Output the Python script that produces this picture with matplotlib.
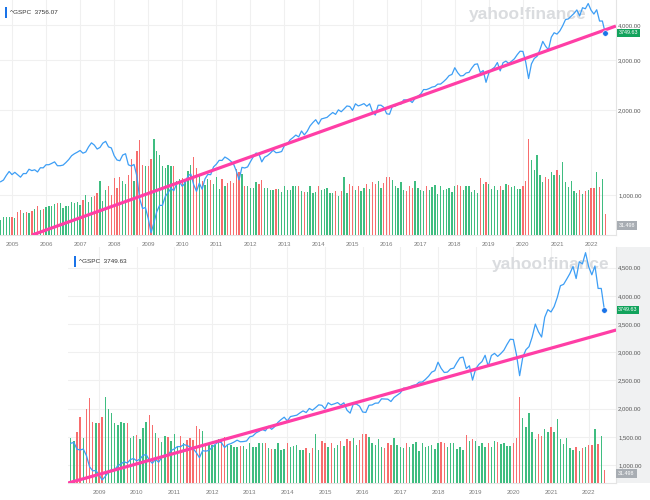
import matplotlib
matplotlib.use("Agg")
import matplotlib.pyplot as plt
import numpy as np
import pandas as pd
from matplotlib.patches import Rectangle
from matplotlib.ticker import FixedLocator, NullLocator, FuncFormatter

plt.rcParams['font.family'] = ['Liberation Sans', 'DejaVu Sans']

# ^GSPC monthly closes, Sep 2004 .. Jun 2022
close = [
    1114.58, 1130.20, 1173.82, 1211.92,
    1181.27, 1203.60, 1180.59, 1156.85, 1191.50, 1191.33, 1234.18, 1220.33, 1228.81, 1207.01, 1249.48, 1248.29,
    1280.08, 1280.66, 1294.83, 1310.61, 1270.09, 1270.20, 1276.66, 1303.82, 1335.85, 1377.94, 1400.63, 1418.30,
    1438.24, 1406.82, 1420.86, 1482.37, 1530.62, 1503.35, 1455.27, 1473.99, 1526.75, 1549.38, 1481.14, 1468.36,
    1378.55, 1330.63, 1322.70, 1385.59, 1400.38, 1280.00, 1267.38, 1282.83, 1166.36, 968.75, 896.24, 903.25,
    825.88, 735.09, 797.87, 872.81, 919.14, 919.32, 987.48, 1020.62, 1057.08, 1036.19, 1095.63, 1115.10,
    1073.87, 1104.49, 1169.43, 1186.69, 1089.41, 1030.71, 1101.60, 1049.33, 1141.20, 1183.26, 1180.55, 1257.64,
    1286.12, 1327.22, 1325.83, 1363.61, 1345.20, 1320.64, 1292.28, 1218.89, 1131.42, 1253.30, 1246.96, 1257.60,
    1312.41, 1365.68, 1408.47, 1397.91, 1310.33, 1362.16, 1379.32, 1406.58, 1440.67, 1412.16, 1416.18, 1426.19,
    1498.11, 1514.68, 1569.19, 1597.57, 1630.74, 1606.28, 1685.73, 1632.97, 1681.55, 1756.54, 1805.81, 1848.36,
    1782.59, 1859.45, 1872.34, 1883.95, 1923.57, 1960.23, 1930.67, 2003.37, 1972.29, 2018.05, 2067.56, 2058.90,
    1994.99, 2104.50, 2067.89, 2085.51, 2107.39, 2063.11, 2103.84, 1972.18, 1920.03, 2079.36, 2080.41, 2043.94,
    1940.24, 1932.23, 2059.74, 2065.30, 2096.95, 2098.86, 2173.60, 2170.95, 2168.27, 2126.15, 2198.81, 2238.83,
    2278.87, 2363.64, 2362.72, 2384.20, 2411.80, 2423.41, 2470.30, 2471.65, 2519.36, 2575.26, 2647.58, 2673.61,
    2823.81, 2713.83, 2640.87, 2648.05, 2705.27, 2718.37, 2816.29, 2901.52, 2913.98, 2711.74, 2760.17, 2506.85,
    2704.10, 2784.49, 2834.40, 2945.83, 2752.06, 2941.76, 2980.38, 2926.46, 2976.74, 3037.56, 3140.98, 3230.78,
    3225.52, 2954.22, 2584.59, 2912.43, 3044.31, 3100.29, 3271.12, 3500.31, 3363.00, 3269.96, 3621.63, 3756.07,
    3714.24, 3811.15, 3972.89, 4181.17, 4204.11, 4297.50, 4395.26, 4522.68, 4307.54, 4605.38, 4567.00, 4766.18,
    4515.55, 4373.94, 4530.41, 4131.93, 4132.15, 3749.63,
]

# monthly volume (billions), same months
volume = [
    22.5, 27, 27, 27,
    27, 25.5, 34.5, 37.5, 33, 34.5, 33, 36, 39, 43.5, 37.5, 39,
    42, 43.5, 43.5, 46.5, 48, 48, 40.5, 43.5, 43.5, 49.5, 48, 49.5,
    45, 52.5, 60, 49.5, 57, 58.5, 63, 81, 51, 67.5, 73.5, 60,
    85.5, 70.5, 87, 81.2, 76.6, 90.3, 113.3, 81.2, 125.5, 142.4, 105.6, 104.1,
    104.1, 113.3, 143.9, 125.5, 119.4, 104.1, 101.0, 105.6, 104.1, 104.1, 81.2, 84.2,
    85.7, 79.6, 96.5, 105.6, 116.3, 101.0, 88.8, 81.2, 75.0, 84.2, 82.7, 76.6,
    87.3, 68.9, 84.2, 73.5, 78.1, 81.2, 78.1, 99.5, 94.9, 91.9, 73.5, 73.5,
    70.4, 70.4, 79.6, 76.6, 82.7, 70.4, 70.4, 67.4, 67.4, 68.9, 68.9, 64.3,
    73.5, 67.4, 67.4, 73.5, 73.5, 73.5, 65.9, 64.3, 64.3, 73.5, 62.8, 64.3,
    73.5, 67.4, 68.9, 70.4, 62.8, 62.8, 65.9, 58.2, 65.9, 87.3, 62.8, 76.6,
    73.5, 67.4, 73.5, 65.9, 70.4, 76.6, 68.9, 79.6, 76.6, 81.2, 70.4, 78.1,
    87.3, 87.3, 82.7, 73.5, 70.4, 79.6, 67.4, 65.9, 73.5, 70.4, 81.2, 70.4,
    67.4, 65.9, 73.5, 67.4, 72.0, 75.0, 61.3, 73.5, 67.4, 68.9, 70.4, 64.3,
    73.5, 75.0, 73.5, 67.4, 73.5, 73.5, 64.3, 67.4, 62.8, 85.7, 76.6, 79.6,
    76.6, 68.9, 73.5, 67.4, 73.5, 67.4, 76.6, 75.0, 72.0, 73.5, 68.9, 68.9,
    73.5, 81.2, 143.9, 111.8, 98.0, 119.4, 90.3, 79.6, 87.3, 84.2, 94.9, 90.3,
    98.0, 90.3, 110.2, 79.6, 72.0, 81.2, 65.9, 62.8, 67.4, 61.3, 65.9, 67.4,
    70.4, 70.4, 94.9, 72.0, 84.2, 31.5,
]

top_years = list(range(2005, 2023))
bot_years = list(range(2009, 2023))
top_price_ticks = [1000, 2000, 3000, 4000]
bot_price_ticks = [1000, 1500, 2000, 2500, 3000, 3500, 4000, 4500]
series_text = ["^GSPC  3756.07", "^GSPC  3749.63"]

# hand drawn trend lines (decimal year, price)
trend_top_x = [2005.59, 2022.73]
trend_top_y = [722, 3967]
trend_bot_x = [2008.18, 2022.73]
trend_bot_y = [681, 3395]

dates = pd.date_range("2004-09-01", periods=len(close), freq="MS")
xs = np.array(dates.year + (dates.month - 1) / 12.0)
close = np.array(close)
volume = np.array(volume)
prev = np.concatenate([[1104.24], close[:-1]])
bar_cols = np.where(close >= prev, "#3fbd80", "#f76d6d")

W, H = 650, 500
fig = plt.figure(figsize=(6.5, 5), dpi=100)

BLUE = "#3d9ef5"
PINK = "#ff3ea6"
GRID = "#f0f0f0"


def panel(rect, mask, xlim, ylim, vlim, log, yticks, years, tx, ty, label_xy, label, wm_xy):
    ax = fig.add_axes(rect)
    axv = fig.add_axes(rect, sharex=ax)
    axl = fig.add_axes(rect, sharex=ax, sharey=ax)
    for a in (axv, axl):
        a.axis("off")
        a.patch.set_visible(False)

    if log:
        ax.set_yscale("log")
    ax.set_xlim(*xlim)
    ax.set_ylim(*ylim)
    axv.set_ylim(*vlim)

    ax.yaxis.tick_right()
    ax.yaxis.set_major_locator(FixedLocator(yticks))
    ax.yaxis.set_minor_locator(NullLocator())
    ax.yaxis.set_major_formatter(FuncFormatter(lambda v, p: f"{v:,.2f}"))
    ax.set_xticks(years)
    ax.set_xticklabels([str(y) for y in years])
    ax.tick_params(axis="y", length=0, pad=1.5, labelsize=4.3, labelcolor="#555555")
    ax.tick_params(axis="x", length=0, pad=5, labelsize=4.3, labelcolor="#7a7a7a")
    ax.grid(True, color=GRID, lw=0.8)
    for s in ("top", "left"):
        ax.spines[s].set_visible(False)
    for s in ("right", "bottom"):
        ax.spines[s].set_color("#e4e4e4")
        ax.spines[s].set_linewidth(0.8)

    # watermark, kept under the marks
    ax.text(wm_xy[0] / W, 1 - wm_xy[1] / H, "yahoo!finance", transform=fig.transFigure,
            fontsize=12.5, fontweight="heavy", color="#dadcdf", ha="center", va="center")

    axv.bar(xs[mask], volume[mask] - vlim[0], bottom=vlim[0], width=0.038,
            color=bar_cols[mask], linewidth=0)

    axl.plot(xs[mask], close[mask], color=BLUE, lw=0.9)
    axl.plot(tx, ty, color=PINK, lw=2.3, solid_capstyle="butt")
    axl.plot(xs[-1], close[-1], "o", color="#1a73e8", ms=4, mec="white", mew=0.4, clip_on=False)

    ax.text(1.004, close[-1], f"{close[-1]:.2f}", transform=ax.get_yaxis_transform(),
            fontsize=3.9, color="white", va="center", ha="left",
            bbox=dict(boxstyle="square,pad=0.3", fc="#12a35c", ec="none"))
    ax.text(1.004, 0.04, "31.498", transform=ax.transAxes,
            fontsize=3.9, color="white", va="center", ha="left",
            bbox=dict(boxstyle="square,pad=0.35", fc="#a8adb3", ec="none"))

    lx, ly = label_xy
    fig.add_artist(Rectangle((lx / W, 1 - (ly + 5.5) / H), 2 / W, 11 / H,
                             transform=fig.transFigure, color="#1a73e8", lw=0))
    fig.text((lx + 5) / W, 1 - ly / H, label,
             fontsize=4.6, color="#333333", va="center", ha="left")
    return ax


# right-hand gray strip of the lower chart
fig.add_artist(Rectangle((616 / W, 17 / H), 34 / W, 236 / H, transform=fig.transFigure,
                         color="#f0f1f2", lw=0, zorder=-1))

panel([0, 265 / H, 616 / W, 235 / H], xs >= 2004.6, (2004.648, 2022.733), (722, 4905),
      (0, 352.5), True, top_price_ticks, top_years, trend_top_x, trend_top_y,
      (5, 12.5), series_text[0], (528, 15))

panel([68 / W, 17 / H, 548 / W, 236 / H], xs >= 2008.2, (2008.177, 2022.725), (681, 4867),
      (12.3, 373.5), False, bot_price_ticks, bot_years, trend_bot_x, trend_bot_y,
      (74, 261.5), series_text[1], (551, 264))

fig.savefig("out.png", dpi=100)
